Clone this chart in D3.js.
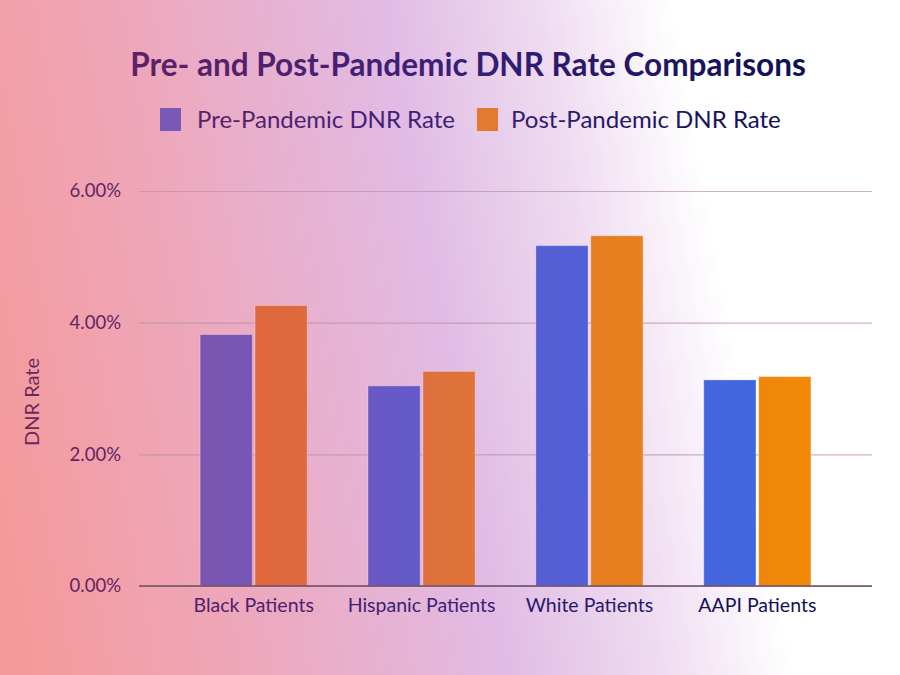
<!DOCTYPE html>
<html><head><meta charset="utf-8">
<script src="https://cdn.jsdelivr.net/npm/d3@7"></script>
<style>html,body{margin:0;padding:0;overflow:hidden;}svg{display:block;font-family:Lato,"Noto Sans",sans-serif;}</style>
</head><body>
<svg id="c" width="900" height="675"></svg>
<script>
const categories = ["Black Patients","Hispanic Patients","White Patients","AAPI Patients"];
const seriesNames = ["Pre-Pandemic DNR Rate","Post-Pandemic DNR Rate"];
const preValues = [3.82, 3.04, 5.17, 3.13];
const postValues = [4.26, 3.26, 5.32, 3.18];
const yTicks = [0, 2, 4, 6];
const title = "Pre- and Post-Pandemic DNR Rate Comparisons";
const yTitle = "DNR Rate";

const W = 900, H = 675;
const m = {left:139, right:28, top:191, bottom:89};
const svg = d3.select("#c");
const defs = svg.append("defs");

// background gradient (diagonal)
const bg = defs.append("linearGradient").attr("id","bg").attr("gradientUnits","userSpaceOnUse")
  .attr("x1",0).attr("y1",500).attr("x2",900).attr("y2",336);
[[0,"#f59a9b"],[0.25,"#eda8bd"],[0.51,"#e1bbe5"],[0.68,"#efdcf1"],[0.82,"#ffffff"],[1,"#ffffff"]]
  .forEach(([o,c])=>bg.append("stop").attr("offset",o).attr("stop-color",c));
svg.append("rect").attr("width",W).attr("height",H).attr("fill","url(#bg)");

// text gradient
const textStops = [[0,"#72295a"],[0.15,"#5e2168"],[0.5,"#3a1e78"],[0.9,"#0c0f55"],[1,"#0a0f50"]];
const tg = defs.append("linearGradient").attr("id","tg").attr("gradientUnits","userSpaceOnUse")
  .attr("x1",0).attr("y1",0).attr("x2",900).attr("y2",0);
textStops.forEach(([o,c])=>tg.append("stop").attr("offset",o).attr("stop-color",c));
const textColor = d3.scaleLinear().domain(textStops.map(s=>s[0]*W)).range(textStops.map(s=>s[1])).interpolate(d3.interpolateRgb).clamp(true);

// bar gradients (absolute user space)
function barGrad(id, stops){
  const g = defs.append("linearGradient").attr("id",id).attr("gradientUnits","userSpaceOnUse")
    .attr("x1",m.left+60).attr("y1",0).attr("x2",W-m.right-60).attr("y2",0);
  stops.forEach(([o,c])=>g.append("stop").attr("offset",o).attr("stop-color",c));
}
barGrad("g0",[[0,"#7c55b0"],[0.33,"#6659c8"],[0.66,"#5060d8"],[1,"#3a6ae2"]]);
barGrad("g1",[[0,"#e0653a"],[0.33,"#dc6e42"],[0.66,"#e77e22"],[1,"#f18906"]]);

const x = d3.scaleBand().domain(categories).range([m.left, W-m.right]).paddingInner(0.362).paddingOuter(0.364);
const xs = d3.scaleBand().domain([0,1]).range([0, x.bandwidth()]).paddingInner(0.05);
const y = d3.scaleLinear().domain([0,6]).range([H-m.bottom, m.top]);

// gridlines
const yAxis = d3.axisLeft(y).tickValues(yTicks).tickSize(-(W-m.left-m.right)).tickFormat(d=>d3.format(".2f")(d)+"%").tickPadding(18);
const ga = svg.append("g").attr("transform",`translate(${m.left},0)`).call(yAxis);
ga.select(".domain").remove();
ga.selectAll(".tick line").attr("stroke","#b890a8").attr("stroke-opacity",0.7).attr("stroke-width",1.2);
ga.selectAll(".tick text").attr("fill",textColor(95)).attr("font-size",18.5).attr("font-family","Lato,sans-serif");

// bars (absolute coordinates so gradients span the plot)
const flat = [];
categories.forEach((c,i)=>{ flat.push({c,k:0,v:preValues[i]}); flat.push({c,k:1,v:postValues[i]}); });
svg.append("g").selectAll("rect").data(flat).join("rect")
  .attr("x",d=>x(d.c)+xs(d.k)).attr("width",xs.bandwidth())
  .attr("y",d=>y(d.v)).attr("height",d=>y(0)-y(d.v))
  .attr("fill",d=>`url(#g${d.k})`)
  .attr("stroke","rgba(255,255,255,0.28)").attr("stroke-width",1);

// baseline
svg.append("line").attr("x1",m.left).attr("x2",W-m.right).attr("y1",y(0)).attr("y2",y(0))
  .attr("stroke","#6b4a62").attr("stroke-width",1.6);

// x labels
const xa = d3.axisBottom(x).tickSize(0).tickPadding(12);
const gx = svg.append("g").attr("transform",`translate(0,${y(0)})`).call(xa);
gx.select(".domain").remove();
gx.selectAll(".tick text").attr("fill",d=>textColor(x(d)+x.bandwidth()/2)).attr("font-size",19.5).attr("font-family","Lato,sans-serif");

// y title
svg.append("text").attr("transform",`translate(39,402) rotate(-90)`).attr("text-anchor","middle")
  .attr("fill",textColor(40)).attr("font-size",20).text(yTitle);

// title
const t = svg.append("text").attr("x",468).attr("y",76).attr("text-anchor","middle")
  .attr("fill","url(#tg)").attr("font-weight",700).attr("font-size",31).text(title);
const tw = t.node().getComputedTextLength();
if (tw>0) t.attr("font-size", Math.max(26, Math.min(34, 31*676/tw)));

// legend
const leg = [{x:160, tx:197},{x:477, tx:511}];
seriesNames.forEach((s,k)=>{
  svg.append("rect").attr("x",leg[k].x).attr("y",108).attr("width",21).attr("height",23)
    .attr("fill", k===0?"#7a58b8":"#e47a32");
  const lt = svg.append("text").attr("x",leg[k].tx).attr("y",128).attr("fill","url(#tg)")
    .attr("font-size",23).text(s);
  const w = lt.node().getComputedTextLength();
  const target = k===0?258:270;
  if (w>0) lt.attr("font-size", Math.max(20, Math.min(26, 23*target/w)));
});
</script>
</body></html>
